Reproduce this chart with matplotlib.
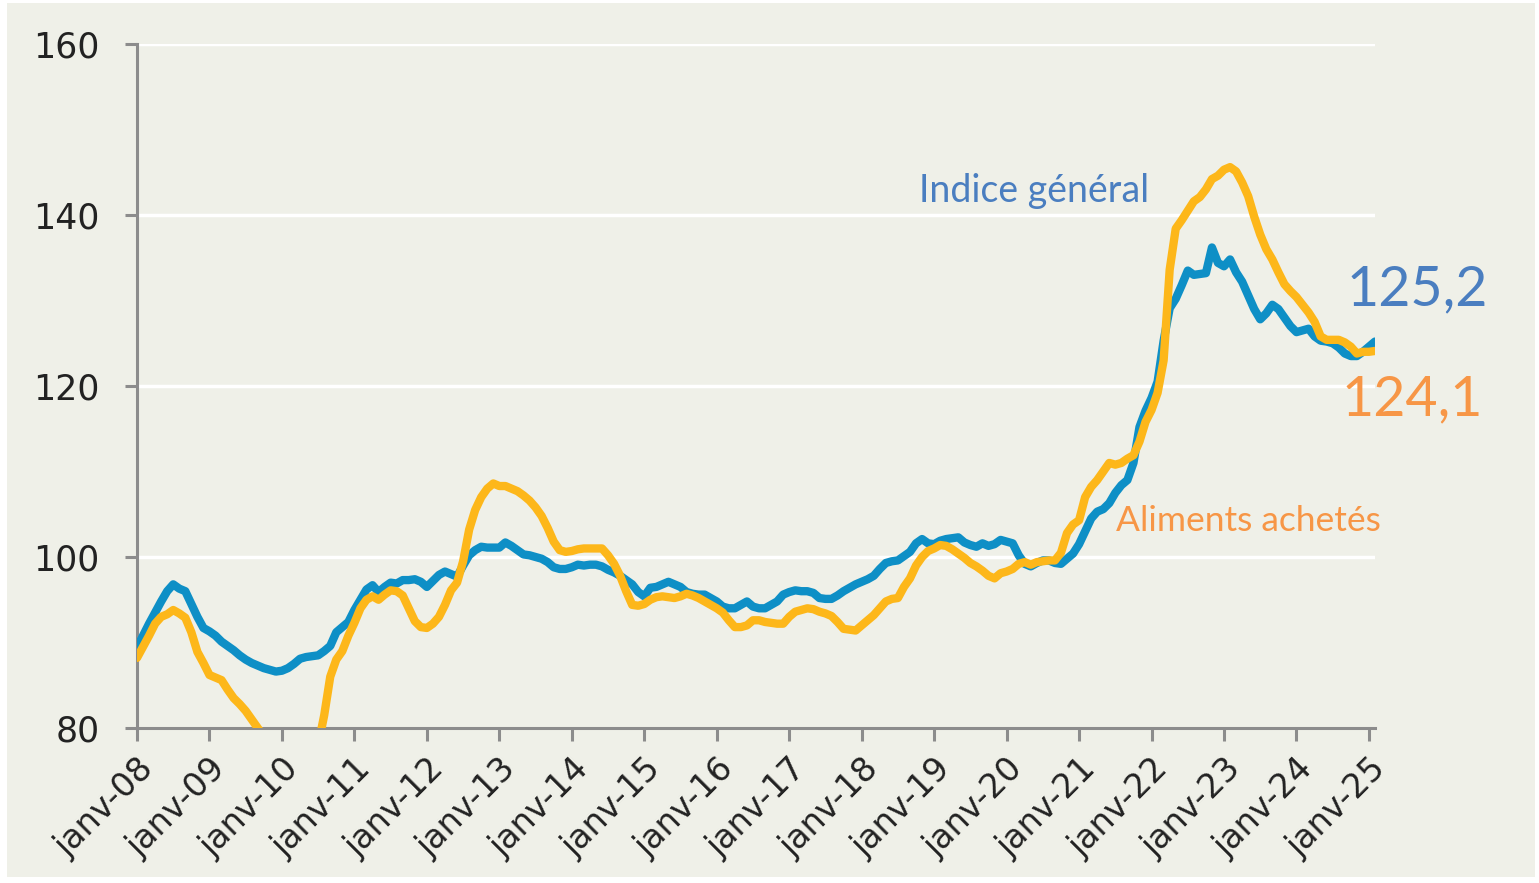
import matplotlib
matplotlib.use("Agg")
import matplotlib.pyplot as plt
from matplotlib.patches import Rectangle
import numpy as np

# Monthly indices, January 2008 to February 2025
start_year = 2008
indice_general = [
    89.4, 90.8, 92.2, 93.5, 94.8, 96.0, 96.8, 96.3, 96.0, 94.5, 93.0, 91.7,   # 2008
    91.3, 90.8, 90.1, 89.6, 89.1, 88.5, 88.0, 87.6, 87.3, 87.0, 86.8, 86.6,   # 2009
    86.7, 87.0, 87.5, 88.1, 88.3, 88.4, 88.5, 89.0, 89.6, 91.2, 91.8, 92.4,   # 2010
    93.8, 95.0, 96.2, 96.7, 95.9, 96.5, 97.0, 96.9, 97.3, 97.3, 97.4, 97.1,   # 2011
    96.5, 97.2, 97.9, 98.3, 98.0, 97.7, 99.0, 100.2, 100.8, 101.2, 101.1, 101.1,  # 2012
    101.1, 101.7, 101.3, 100.8, 100.3, 100.2, 100.0, 99.8, 99.4, 98.8, 98.6, 98.6,  # 2013
    98.8, 99.1, 99.0, 99.1, 99.1, 98.9, 98.5, 98.2, 97.8, 97.3, 96.8, 95.9,   # 2014
    95.4, 96.4, 96.5, 96.8, 97.1, 96.8, 96.5, 95.9, 95.7, 95.6, 95.6, 95.2,   # 2015
    94.8, 94.2, 94.0, 94.0, 94.4, 94.8, 94.2, 94.0, 94.0, 94.4, 94.8, 95.6,   # 2016
    95.9, 96.1, 96.0, 96.0, 95.8, 95.2, 95.1, 95.1, 95.5, 96.0, 96.4, 96.8,   # 2017
    97.1, 97.4, 97.8, 98.6, 99.3, 99.5, 99.6, 100.1, 100.6, 101.6, 102.1, 101.6,  # 2018
    101.5, 101.9, 102.1, 102.2, 102.3, 101.7, 101.4, 101.2, 101.6, 101.3, 101.5, 102.0,  # 2019
    101.8, 101.6, 100.2, 99.2, 98.9, 99.3, 99.6, 99.6, 99.3, 99.2, 99.8, 100.4,  # 2020
    101.5, 103.0, 104.5, 105.3, 105.6, 106.3, 107.5, 108.4, 109.0, 111.0, 115.2, 117.1,  # 2021
    118.6, 120.5, 125.3, 129.1, 130.2, 131.8, 133.5, 133.0, 133.1, 133.2, 136.2, 134.4,  # 2022
    134.0, 134.8, 133.3, 132.2, 130.6, 129.0, 127.8, 128.5, 129.5, 129.0, 128.0, 127.0,  # 2023
    126.3, 126.5, 126.7, 125.8, 125.3, 125.2, 125.0, 124.5, 123.8, 123.5, 123.5, 124.0,  # 2024
    124.6, 125.2,                                                              # 2025
]
aliments_achetes = [
    88.2, 89.5, 90.8, 92.2, 93.0, 93.3, 93.8, 93.4, 92.9, 91.2, 88.9, 87.6,   # 2008
    86.2, 85.9, 85.6, 84.5, 83.5, 82.8, 82.0, 81.0, 80.0, 79.0, 78.2, 77.5,   # 2009
    77.0, 76.8, 76.8, 77.0, 77.0, 77.2, 78.0, 81.5, 86.0, 88.0, 89.0, 90.8,   # 2010
    92.3, 94.0, 95.0, 95.4, 95.0, 95.6, 96.1, 96.0, 95.5, 94.0, 92.5, 91.8,   # 2011
    91.7, 92.2, 93.0, 94.4, 96.1, 97.0, 99.5, 103.2, 105.5, 107.0, 108.0, 108.6,  # 2012
    108.3, 108.3, 108.0, 107.7, 107.2, 106.6, 105.8, 104.8, 103.4, 101.8, 100.8, 100.6,  # 2013
    100.7, 100.9, 101.0, 101.0, 101.0, 101.0, 100.2, 99.2, 97.8, 96.0, 94.4, 94.3,  # 2014
    94.5, 95.0, 95.3, 95.4, 95.3, 95.2, 95.4, 95.7, 95.5, 95.2, 94.8, 94.4,   # 2015
    94.0, 93.5, 92.6, 91.8, 91.8, 92.0, 92.6, 92.6, 92.4, 92.3, 92.2, 92.2,   # 2016
    93.0, 93.6, 93.8, 94.0, 93.9, 93.6, 93.4, 93.1, 92.4, 91.6, 91.5, 91.4,   # 2017
    92.0, 92.6, 93.2, 94.0, 94.8, 95.1, 95.2, 96.5, 97.5, 99.0, 100.0, 100.7,  # 2018
    101.0, 101.4, 101.3, 100.9, 100.4, 99.9, 99.3, 98.9, 98.4, 97.8, 97.5, 98.1,  # 2019
    98.3, 98.6, 99.2, 99.4, 99.1, 99.4, 99.5, 99.6, 99.6, 100.5, 102.8, 103.8,  # 2020
    104.3, 107.0, 108.2, 109.0, 110.0, 111.0, 110.8, 111.0, 111.5, 111.9, 113.5, 115.8,  # 2021
    117.2, 119.2, 123.0, 133.6, 138.4, 139.4, 140.5, 141.6, 142.1, 143.0, 144.2, 144.6,  # 2022
    145.3, 145.6, 145.1, 143.8, 142.2, 139.8, 137.7, 136.0, 134.8, 133.3, 131.9, 131.1,  # 2023
    130.4, 129.5, 128.6, 127.5, 125.8, 125.4, 125.4, 125.4, 125.1, 124.6, 123.8, 124.0,  # 2024
    124.0, 124.1,                                                              # 2025
]
tick_labels = [f"janv-{y % 100:02d}" for y in range(2008, 2026)]
y_ticks = [80, 100, 120, 140, 160]

BG = "#EFF0E8"
BLUE_LINE = "#0E8FC6"
YELLOW_LINE = "#FDB71A"
BLUE_TEXT = "#4A7EC0"
ORANGE_TEXT = "#F79646"
AXIS_GREY = "#8C8C8C"

fig = plt.figure(figsize=(15.39, 8.83), dpi=100, facecolor="white")
fig.patches.append(Rectangle((7 / 1539, 6 / 883), 1528 / 1539, 874 / 883,
                             transform=fig.transFigure, facecolor=BG,
                             edgecolor="none", zorder=-10))

ax = fig.add_axes([137 / 1539, 1 - 728 / 883, (1375 - 137) / 1539, (728 - 44) / 883])
ax.set_facecolor(BG)

months = np.arange(len(indice_general))
ax.plot(months, indice_general, color=BLUE_LINE, lw=6, solid_joinstyle="round",
        solid_capstyle="round", zorder=3)
ax.plot(months, aliments_achetes, color=YELLOW_LINE, lw=6, solid_joinstyle="round",
        solid_capstyle="round", zorder=4)

ax.set_ylim(80, 160)
ax.set_xlim(0, len(indice_general) - 1)
ax.set_yticks(y_ticks)
ax.set_yticklabels([str(v) for v in y_ticks], fontsize=25, color="#222222",
                   family="DejaVu Sans")
for v in y_ticks[1:]:
    ax.axhline(v, color="white", lw=2.5, zorder=1)

tick_pos = np.arange(0, 12 * len(tick_labels), 12)
ax.set_xticks(tick_pos)
ax.set_xticklabels(tick_labels, rotation=45, ha="right", va="top",
                   rotation_mode="anchor", fontsize=24, color="#222222",
                   family="DejaVu Sans")

for side in ("top", "right"):
    ax.spines[side].set_visible(False)
for side in ("left", "bottom"):
    ax.spines[side].set_color(AXIS_GREY)
    ax.spines[side].set_linewidth(2.2)
ax.tick_params(axis="y", length=9, width=2.2, color=AXIS_GREY, pad=18)
ax.tick_params(axis="x", length=9, width=2.2, color=AXIS_GREY, pad=8)

# Series labels and last values
ax.text(0.725, 0.785, "Indice général", transform=ax.transAxes, fontsize=27,
        color=BLUE_TEXT, family="Lato", ha="center", va="center")
ax.text(0.898, 0.3025, "Aliments achetés", transform=ax.transAxes, fontsize=25.5,
        color=ORANGE_TEXT, family="Lato", ha="center", va="center")
ax.text(0.977, 0.64, f"{indice_general[-1]:.1f}".replace(".", ","),
        transform=ax.transAxes, fontsize=40, color=BLUE_TEXT, family="Lato",
        ha="left", va="center", clip_on=False)
ax.text(0.973, 0.48, f"{aliments_achetes[-1]:.1f}".replace(".", ","),
        transform=ax.transAxes, fontsize=40, color=ORANGE_TEXT, family="Lato",
        ha="left", va="center", clip_on=False)

fig.savefig("out.png", dpi=100, facecolor="white")
